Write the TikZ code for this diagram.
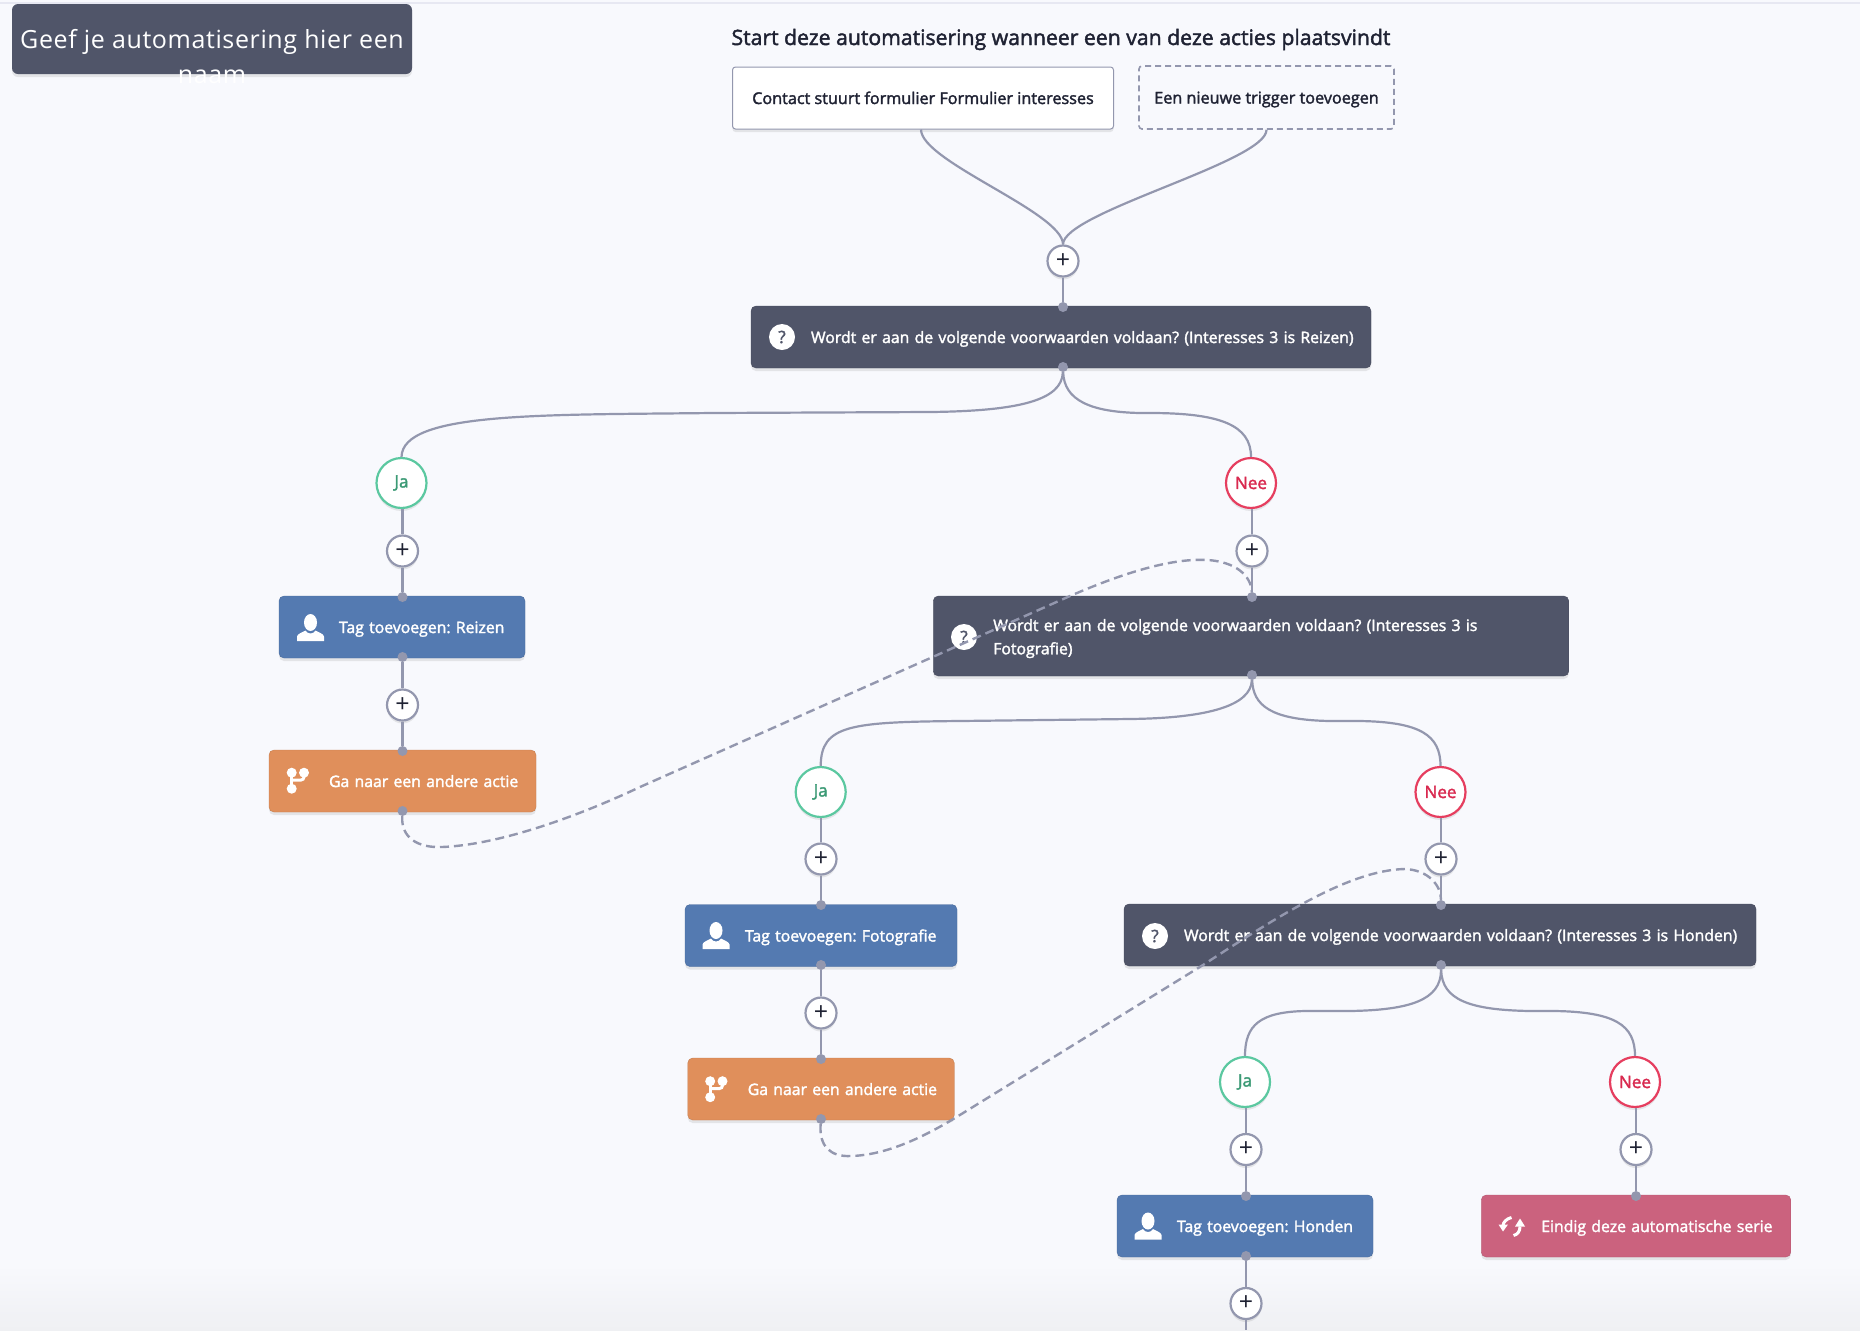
\documentclass[tikz,border=0pt]{standalone}
\usepackage{fontspec}
\setmainfont{Open Sans}
\newfontfamily\semifont{Open Sans}[FakeBold=2]
\frenchspacing
\usetikzlibrary{shadows}
\definecolor{pagebg}{HTML}{F8F9FD}
\definecolor{pagelow}{HTML}{EFF0F3}
\definecolor{topbar}{HTML}{E7E8F2}
\definecolor{wirecol}{HTML}{9397AE}
\definecolor{darkbox}{HTML}{505569}
\definecolor{bluebox}{HTML}{547AB1}
\definecolor{orangebox}{HTML}{E08F5B}
\definecolor{redbox}{HTML}{CB627E}
\definecolor{inkcol}{HTML}{1F2233}
\definecolor{jaring}{HTML}{5BC8A0}
\definecolor{jaink}{HTML}{3B9A75}
\definecolor{neering}{HTML}{E63E5F}
\definecolor{neeink}{HTML}{D9294F}
\newcommand{\boxlbl}[1]{\hspace*{42pt}\mbox{#1}}
\tikzset{
personicon/.pic={
\fill [white] (-13.5,13.5) -- (-13.5,9) .. controls (-13,6) and (-8,5) .. (-5,3) .. controls (-3,7) and (3,7) .. (5,3) .. controls (8,5) and (13,6) .. (13.5,9) -- (13.5,13.5) -- cycle;
\fill [white] (0,-5) ellipse [x radius=6.5, y radius=8.5];
},
branchicon/.pic={
\fill [white] (-6.3,-7.8) circle (5) (6,-7.8) circle (5) (-6.3,8.2) circle (5);
\draw [white, line width=3pt] (-6.3,-7.8) -- (-6.3,8.2);
\draw [white, line width=3pt, rounded corners=3] (6,-7.8) -- (6,-0.5) -- (-6.3,-0.5);
},
syncicon/.pic={
\draw [white, line width=3pt] (0,-9) .. controls (-5,-8) and (-8.5,-4) .. (-8.5,-1);
\fill [white] (-13,-2) -- (-3.5,-2) -- (-8.5,5) -- cycle;
\draw [white, line width=3pt] (2,9) .. controls (6,8) and (8.5,5) .. (8.5,0);
\fill [white] (3.5,0) -- (13.5,0) -- (8.5,-8) -- cycle;
}
}
\begin{document}
\begin{tikzpicture}[x=1pt, y=-1pt]
\tikzstyle{softshadow}=[drop shadow={shadow xshift=0pt, shadow yshift=-3pt, opacity=0.14, fill=black!60}]
\tikzstyle{flowbox}=[rectangle, rounded corners=5pt, inner xsep=18pt, inner ysep=0pt, minimum height=62pt, align=left, text=white, softshadow, font=\semifont\fontsize{15.8}{23.3}\selectfont, text height=14pt, text depth=2pt]
\tikzstyle{darkstep}=[flowbox, fill=darkbox, draw=darkbox!90!black]
\tikzstyle{tagstep}=[flowbox, fill=bluebox, draw=bluebox!88!black]
\tikzstyle{gotostep}=[flowbox, fill=orangebox, draw=orangebox!88!black]
\tikzstyle{endstep}=[flowbox, fill=redbox, draw=redbox!88!black]
\tikzstyle{plusnode}=[circle, fill=white, draw=wirecol, line width=2.2pt, minimum size=31pt, inner sep=0pt, text=inkcol, softshadow, font=\fontsize{25}{25}\selectfont]
\tikzstyle{janode}=[circle, fill=white, draw=jaring, line width=2.2pt, minimum size=50pt, inner sep=0pt, text=jaink, softshadow, font=\semifont\fontsize{17}{17}\selectfont]
\tikzstyle{neenode}=[circle, fill=white, draw=neering, line width=2.2pt, minimum size=50pt, inner sep=0pt, text=neeink, softshadow, font=\semifont\fontsize{17}{17}\selectfont]
\tikzstyle{dotnode}=[circle, fill=wirecol, minimum size=10pt, inner sep=0pt]
\tikzstyle{helpnode}=[circle, fill=white, minimum size=26pt, inner sep=0pt, text=darkbox, font=\semifont\fontsize{17}{17}\selectfont]
\tikzstyle{flowline}=[draw=wirecol, line width=2.2pt]
\tikzstyle{stemline}=[draw=wirecol, line width=2.8pt]
\tikzstyle{jumpline}=[draw=wirecol, line width=2.4pt, dash pattern=on 9pt off 5pt]
\tikzstyle{triggerbox}=[rectangle, rounded corners=3pt, minimum height=62pt, inner sep=0pt, text=inkcol, font=\semifont\fontsize{16.2}{20}\selectfont, text height=14pt, text depth=2pt]

\fill [pagebg] (0,0) rectangle (1860,1330);
\fill [top color=pagebg, bottom color=pagelow] (0,1265) rectangle (1860,1330);
\fill [topbar] (0,1.5) rectangle (1860,4);

\node [rectangle, rounded corners=6pt, fill=darkbox, minimum width=400pt, minimum height=70pt, inner sep=0pt, softshadow] (namebox) at (212,39) {};
\node [text=white, align=center, inner sep=0pt, font=\fontsize{25}{35}\selectfont\addfontfeature{LetterSpace=2.5}] (nametext) at (212,57) {Geef je automatisering hier een\\naam};
\node [text=inkcol, inner sep=0pt, font=\semifont\fontsize{21.2}{24}\selectfont] (heading) at (1061,39.5) {Start deze automatisering wanneer een van deze acties plaatsvindt};

\node [triggerbox, fill=white, draw=wirecol, line width=1pt, minimum width=381pt, softshadow] (contact) at (923,98) {Contact stuurt formulier Formulier interesses};
\node [triggerbox, draw=wirecol, line width=1.6pt, dash pattern=on 6pt off 4pt, minimum width=255pt, minimum height=63pt] (trigger) at (1266.5,97.5) {Een nieuwe trigger toevoegen};

\node [plusnode] (plusa) at (1063,261) {+};
\node [darkstep, text width=584pt] (condreizen) at (1061,337) {\boxlbl{Wordt er aan de volgende voorwaarden voldaan? (Interesses 3 is Reizen)}};
\node [helpnode] (helpreizen) at (782,337) {?};
\node [dotnode] (dotaa) at (1063,307) {};
\node [dotnode] (dotab) at (1063,367) {};

\node [janode] (jaa) at (401.5,483) {Ja};
\node [plusnode] (plusb) at (402.5,551) {+};
\node [tagstep, text width=210pt] (tagreizen) at (402,627) {\boxlbl{Tag toevoegen: Reizen}};
\pic at (310.5,627.5) {personicon};
\node [dotnode] (dotba) at (402.5,597) {};
\node [dotnode] (dotbb) at (402.5,657) {};
\node [plusnode] (plusc) at (402.5,705) {+};
\node [gotostep, text width=231pt] (gotoa) at (402.5,781) {\boxlbl{Ga naar een andere actie}};
\pic at (298,780.5) {branchicon};
\node [dotnode] (dotca) at (402.5,751) {};
\node [dotnode] (dotcb) at (402.5,811) {};

\node [neenode] (neea) at (1251,483) {Nee};
\node [plusnode] (plusd) at (1252,551) {+};
\node [darkstep, text width=599.5pt, minimum height=80pt, text height=12pt, text depth=22pt] (condfoto) at (1251,636) {\boxlbl{Wordt er aan de volgende voorwaarden voldaan? (Interesses 3 is}\\\boxlbl{Fotografie)}};
\node [helpnode] (helpfoto) at (964,637) {?};
\node [dotnode] (dotda) at (1252,597) {};
\node [dotnode] (dotdb) at (1252,675) {};

\node [janode] (jab) at (820.7,792) {Ja};
\node [plusnode] (pluse) at (821,859) {+};
\node [tagstep, text width=236pt] (tagfoto) at (821,935.5) {\boxlbl{Tag toevoegen: Fotografie}};
\pic at (716,935.5) {personicon};
\node [dotnode] (dotea) at (821,905) {};
\node [dotnode] (doteb) at (821,965) {};
\node [plusnode] (plusf) at (821,1013) {+};
\node [gotostep, text width=230.5pt] (gotob) at (821,1089) {\boxlbl{Ga naar een andere actie}};
\pic at (716.5,1089) {branchicon};
\node [dotnode] (dotfa) at (821,1059) {};
\node [dotnode] (dotfb) at (821,1119) {};

\node [neenode] (neeb) at (1440.5,792) {Nee};
\node [plusnode] (plusg) at (1441,859) {+};
\node [darkstep, text width=596pt] (condhond) at (1440,935) {\boxlbl{Wordt er aan de volgende voorwaarden voldaan? (Interesses 3 is Honden)}};
\node [helpnode] (helphond) at (1155,936) {?};
\node [dotnode] (dotga) at (1441,905) {};
\node [dotnode] (dotgb) at (1441,965) {};

\node [janode] (jac) at (1245,1082) {Ja};
\node [plusnode] (plush) at (1246,1149.5) {+};
\node [tagstep, text width=220pt] (taghond) at (1245,1226) {\boxlbl{Tag toevoegen: Honden}};
\pic at (1148,1226) {personicon};
\node [dotnode] (dotha) at (1246,1196) {};
\node [dotnode] (dothb) at (1246,1256) {};
\node [plusnode] (plusi) at (1246,1303.5) {+};
\coordinate (pageend) at (1246,1330);

\node [neenode] (neec) at (1635,1082) {Nee};
\node [plusnode] (plusj) at (1636,1149.5) {+};
\node [endstep, text width=273.5pt] (stopserie) at (1636,1226) {\boxlbl{Eindig deze automatische serie}};
\pic at (1511.5,1226.5) {syncicon};
\node [dotnode] (dotja) at (1636,1196) {};

\draw [flowline] ([xshift=-2pt]contact.south) .. controls +(0,32) and +(0,-32) .. (plusa.north);
\draw [flowline] (trigger.south) .. controls +(0,32) and +(0,-32) .. (plusa.north);
\draw [stemline] (plusa) -- (dotaa);

\draw [flowline] (dotab) .. controls (1062,400) and (1020,411) .. (930,412) -- (712,413) .. controls (540,415) and (402.5,412) .. (jaa.north);
\draw [flowline] (dotab) .. controls (1064,400) and (1090,412) .. (1140,413) -- (1150,413) .. controls (1220,413) and (1251,425) .. (neea.north);
\draw [stemline] (jaa.south -| plusb) -- (plusb);
\draw [stemline] (plusb) -- (dotba);
\draw [stemline] (dotbb) -- (plusc);
\draw [stemline] (plusc) -- (dotca);
\draw [stemline] (neea.south -| plusd) -- (plusd);
\draw [stemline] (plusd) -- (dotda);

\draw [flowline] (dotdb) .. controls (1251,705) and (1210,718) .. (1130,719) -- (960,721) .. controls (850,722) and (821,725) .. (jab.north);
\draw [flowline] (dotdb) .. controls (1253,705) and (1270,720) .. (1330,721) -- (1360,721) .. controls (1420,722) and (1440.5,735) .. (neeb.north);
\draw [stemline] (jab.south -| pluse) -- (pluse);
\draw [stemline] (pluse) -- (dotea);
\draw [stemline] (doteb) -- (plusf);
\draw [stemline] (plusf) -- (dotfa);
\draw [stemline] (neeb.south -| plusg) -- (plusg);
\draw [stemline] (plusg) -- (dotga);

\draw [flowline] (dotgb) .. controls (1441,1000) and (1410,1010) .. (1350,1011) -- (1305,1011) .. controls (1260,1012) and (1245,1025) .. (jac.north);
\draw [flowline] (dotgb) .. controls (1442,1000) and (1470,1010) .. (1530,1011) -- (1555,1011) .. controls (1615,1012) and (1635,1025) .. (neec.north);
\draw [stemline] (jac.south -| plush) -- (plush);
\draw [stemline] (plush) -- (dotha);
\draw [stemline] (dothb) -- (plusi);
\draw [stemline] (plusi) -- (pageend);
\draw [stemline] (neec.south -| plusj) -- (plusj);
\draw [stemline] (plusj) -- (dotja);

\draw [jumpline] (dotcb) .. controls (401,838) and (418,848) .. (442,847) .. controls (495,845) and (570,820) .. (640,787) -- (1070,596) .. controls (1130,570) and (1175,558) .. (1208,560) .. controls (1235,562) and (1251,575) .. (dotda);
\draw [jumpline] (dotfb) .. controls (819,1146) and (830,1157) .. (851,1156) .. controls (885,1155) and (920,1139) .. (955,1118) -- (1203,965) .. controls (1280,915) and (1350,870) .. (1405,869) .. controls (1428,870) and (1441,885) .. (dotga);
\end{tikzpicture}
\end{document}
